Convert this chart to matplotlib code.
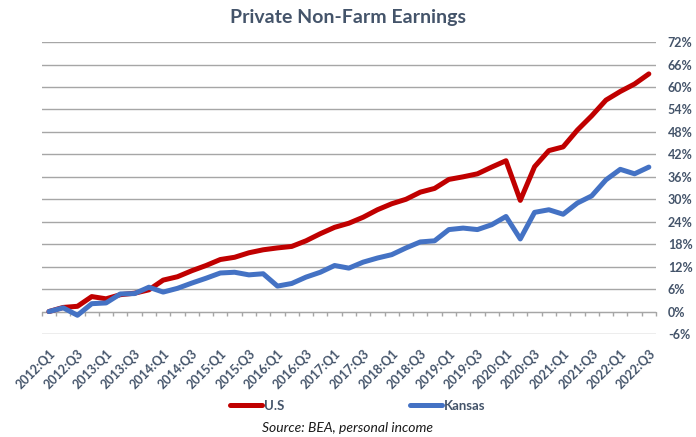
import matplotlib.pyplot as plt
from matplotlib.ticker import FixedLocator, FuncFormatter

# quarters 2012:Q1 .. 2022:Q3
quarters = [f"{y}:Q{q}" for y in range(2012, 2023) for q in range(1, 5)][:43]

# cumulative growth since 2012:Q1, percent
us = [0.0, 1.1, 1.4, 4.0, 3.4, 4.5, 4.9, 5.8, 8.4, 9.3, 10.9, 12.3,
      13.9, 14.5, 15.7, 16.5, 17.0, 17.4, 18.9, 20.8, 22.5, 23.6,
      25.2, 27.2, 28.8, 30.0, 31.9, 32.9, 35.3, 36.0, 36.8, 38.6,
      40.3, 29.7, 38.7, 43.0, 44.0, 48.5, 52.3, 56.5, 58.8, 60.8, 63.5]
kansas = [0.0, 1.0, -1.0, 2.1, 2.3, 4.7, 4.8, 6.5, 5.2, 6.2, 7.6, 8.9,
          10.3, 10.5, 9.8, 10.1, 6.8, 7.5, 9.2, 10.5, 12.3, 11.6,
          13.2, 14.3, 15.2, 17.0, 18.6, 18.9, 21.9, 22.3, 21.9, 23.2,
          25.4, 19.4, 26.5, 27.2, 26.0, 29.0, 30.9, 35.2, 38.0, 36.8, 38.6]
yticks = list(range(-6, 73, 6))

plt.rcParams['font.family'] = ['Lato', 'DejaVu Sans']
text_col = '#44546A'
grid_col = '#A6A6A6'

fig = plt.figure(figsize=(6.96, 4.37), dpi=100)
ax = fig.add_axes([0.060, 0.2357, 0.8825, 0.668])

# spines first: moving a spine resets the tick objects
for s in ['top', 'left', 'right']:
    ax.spines[s].set_visible(False)
ax.spines['bottom'].set_position(('data', 0))
ax.spines['bottom'].set_color(grid_col)

x = list(range(len(quarters)))
ax.plot(x, us, color='#C00000', lw=3.6, solid_joinstyle='round',
        solid_capstyle='round', label='U.S', zorder=3)
ax.plot(x, kansas, color='#4472C4', lw=3.6, solid_joinstyle='round',
        solid_capstyle='round', label='Kansas', zorder=4)

ax.set_xlim(-0.5, len(quarters) - 0.5)
ax.set_ylim(-6, 72)
ax.set_yticks(yticks)
ax.yaxis.tick_right()
ax.yaxis.set_major_formatter(FuncFormatter(lambda v, p: f"{v:.0f}%"))
ax.tick_params(axis='y', length=0, pad=8.5, labelsize=9, labelcolor=text_col)
for lbl in ax.get_yticklabels():
    lbl.set_fontweight('bold')
ax.grid(axis='y', color=grid_col, lw=1)
ax.set_axisbelow(True)

ax.set_xticks(x[::2])
ax.xaxis.set_minor_locator(FixedLocator([i - 0.5 for i in range(len(quarters) + 1)]))
ax.tick_params(axis='x', which='major', length=0, pad=26)
ax.tick_params(axis='x', which='minor', length=3, color=grid_col, width=1)
ax.set_xticklabels(quarters[::2], rotation=45, ha='right',
                   rotation_mode='anchor', fontsize=9, color=text_col,
                   fontweight='bold')

fig.text(0.5, 0.961, "Private Non-Farm Earnings", ha='center', va='center',
         fontsize=14, fontweight='bold', color=text_col)

leg = fig.legend(loc='center', bbox_to_anchor=(0.514, 0.071), ncol=2,
                 frameon=False, handlelength=2.4, handletextpad=0.15,
                 columnspacing=9.5, prop={'size': 9.5, 'weight': 'bold'})
for t in leg.get_texts():
    t.set_color(text_col)

fig.text(0.5, 0.021, "Source: BEA, personal income", ha='center', va='center',
         fontsize=10, style='italic', color='#1a1a1a')

fig.savefig("out.png", dpi=100)
